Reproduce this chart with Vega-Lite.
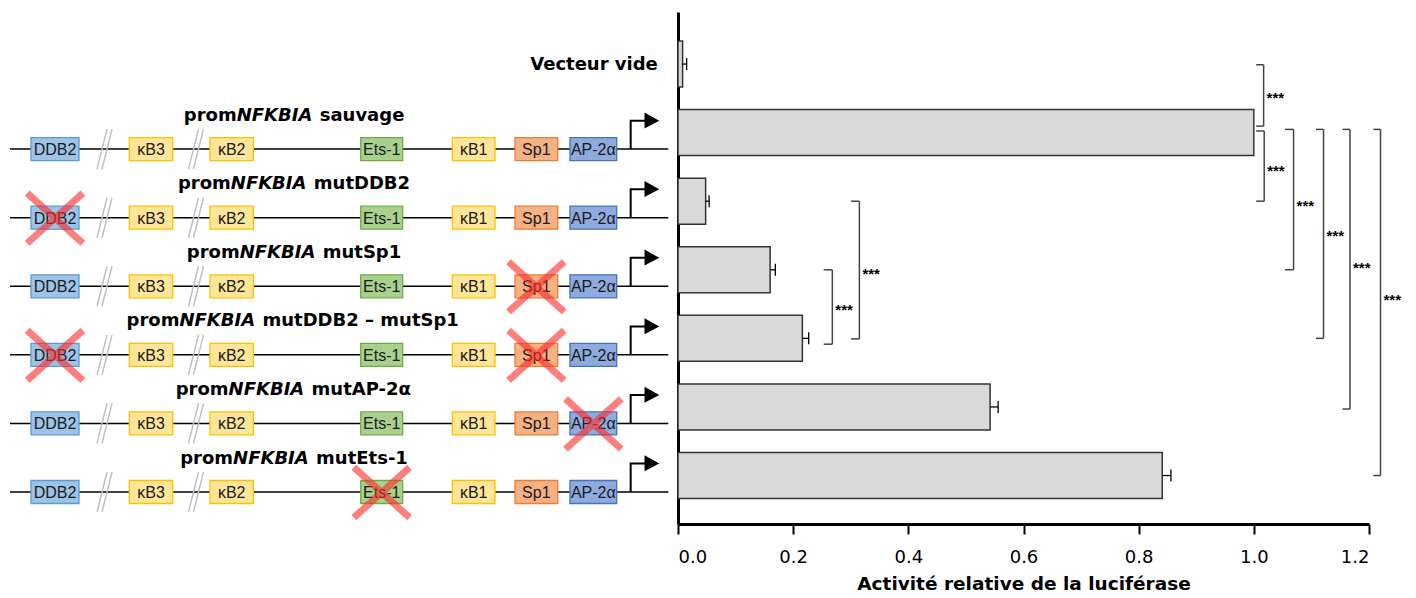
{
  "$schema": "https://vega.github.io/schema/vega-lite/v6.json",
  "background": "white",
  "padding": {"left": 0, "top": 12, "right": 0, "bottom": 0},
  "bounds": "flush",
  "spacing": 8,
  "config": {"view": {"stroke": null}, "font": "Liberation Sans"},
  "datasets": {
    "bars": [
      {"row": 0, "name": "Vecteur vide", "value": 0.008, "hi": 0.015},
      {"row": 1, "name": "sauvage", "value": 1.0, "hi": null},
      {"row": 2, "name": "mutDDB2", "value": 0.048, "hi": 0.054},
      {"row": 3, "name": "mutSp1", "value": 0.160, "hi": 0.169},
      {"row": 4, "name": "mutDDB2 – mutSp1", "value": 0.216, "hi": 0.227},
      {"row": 5, "name": "mutAP-2α", "value": 0.542, "hi": 0.556},
      {"row": 6, "name": "mutEts-1", "value": 0.841, "hi": 0.856}
    ],
    "brackets": [
      {"x": 1.017, "xl": 1.004, "y1": 0.01, "y2": 0.905, "ymid": 0.44},
      {"x": 1.018, "xl": 1.004, "y1": 0.976, "y2": 2.0, "ymid": 1.5},
      {"x": 1.069, "xl": 1.054, "y1": 0.953, "y2": 3.0, "ymid": 2.01},
      {"x": 1.121, "xl": 1.108, "y1": 0.953, "y2": 4.0, "ymid": 2.45},
      {"x": 1.167, "xl": 1.154, "y1": 0.953, "y2": 5.03, "ymid": 2.92},
      {"x": 1.220, "xl": 1.2075, "y1": 0.953, "y2": 6.0, "ymid": 3.38},
      {"x": 0.268, "xl": 0.253, "y1": 3.0, "y2": 4.085, "ymid": 3.53},
      {"x": 0.315, "xl": 0.3005, "y1": 2.0, "y2": 4.007, "ymid": 3.0}
    ],
    "constructs": [
      {"row": 1, "suffix": "sauvage", "anchor": 35.33, "start": 1.49, "end": 99.75, "tss": 94.13},
      {"row": 2, "suffix": "mutDDB2", "anchor": 34.45, "start": 1.49, "end": 99.75, "tss": 94.13},
      {"row": 3, "suffix": "mutSp1", "anchor": 35.78, "start": 1.49, "end": 99.75, "tss": 94.13},
      {"row": 4, "suffix": "mutDDB2 – mutSp1", "anchor": 26.79, "start": 1.49, "end": 99.75, "tss": 94.13},
      {"row": 5, "suffix": "mutAP-2α", "anchor": 34.12, "start": 1.49, "end": 99.75, "tss": 94.13},
      {"row": 6, "suffix": "mutEts-1", "anchor": 34.79, "start": 1.49, "end": 99.75, "tss": 94.13}
    ],
    "boxes": [
      {"name": "DDB2", "type": "DDB2", "start": 4.63, "end": 11.79, "mid": 8.21, "rows": [1, 2, 3, 4, 5, 6]},
      {"name": "κB3", "type": "kB", "start": 19.30, "end": 25.78, "mid": 22.54, "rows": [1, 2, 3, 4, 5, 6]},
      {"name": "κB2", "type": "kB", "start": 31.34, "end": 37.81, "mid": 34.58, "rows": [1, 2, 3, 4, 5, 6]},
      {"name": "Ets-1", "type": "Ets", "start": 53.84, "end": 60.10, "mid": 56.97, "rows": [1, 2, 3, 4, 5, 6]},
      {"name": "κB1", "type": "kB", "start": 67.51, "end": 73.88, "mid": 70.70, "rows": [1, 2, 3, 4, 5, 6]},
      {"name": "Sp1", "type": "Sp1", "start": 76.87, "end": 83.24, "mid": 80.05, "rows": [1, 2, 3, 4, 5, 6]},
      {"name": "AP-2α", "type": "AP", "start": 85.07, "end": 92.04, "mid": 88.56, "rows": [1, 2, 3, 4, 5, 6]}
    ],
    "slashes": [
      {"x": 15.6, "rows": [1, 2, 3, 4, 5, 6]},
      {"x": 29.25, "rows": [1, 2, 3, 4, 5, 6]}
    ],
    "crosses": [
      {"row": 2, "x": 8.21},
      {"row": 3, "x": 80.05},
      {"row": 4, "x": 8.21},
      {"row": 4, "x": 80.05},
      {"row": 5, "x": 88.56},
      {"row": 6, "x": 56.97}
    ],
    "vide": [{"row": 0, "x": 88.66, "label": "Vecteur vide"}]
  },
  "hconcat": [
    {
      "width": 670,
      "height": 512,
      "layer": [
        {
          "data": {"name": "constructs"},
          "mark": {"type": "rule", "yOffset": 16.5, "color": "#000000", "strokeWidth": 1.5},
          "encoding": {
            "x": {"field": "start", "type": "quantitative", "scale": {"domain": [0, 100], "nice": false, "zero": false}, "axis": null},
            "x2": {"field": "end"},
            "y": {"field": "row", "type": "quantitative", "scale": {"domain": [-0.686, 6.634], "reverse": true, "nice": false, "zero": false}, "axis": null}
          }
        },
        {
          "data": {"name": "slashes"},
          "transform": [{"flatten": ["rows"]}],
          "mark": {"type": "point", "shape": "M-0.375,1L0.125,-1M-0.125,1L0.375,-1", "size": 1600, "filled": false, "stroke": "#c0c0c0", "strokeWidth": 1.5, "opacity": 1, "yOffset": 16.5},
          "encoding": {
            "x": {"field": "x", "type": "quantitative", "axis": null},
            "y": {"field": "rows", "type": "quantitative", "axis": null}
          }
        },
        {
          "data": {"name": "boxes"},
          "transform": [{"flatten": ["rows"]}],
          "mark": {"type": "bar", "orient": "horizontal", "size": 23, "yOffset": 16.5, "strokeWidth": 1.3},
          "encoding": {
            "x": {"field": "start", "type": "quantitative", "axis": null},
            "x2": {"field": "end"},
            "y": {"field": "rows", "type": "quantitative", "axis": null},
            "fill": {"field": "type", "type": "nominal", "legend": null,
              "scale": {"domain": ["DDB2", "kB", "Ets", "Sp1", "AP"], "range": ["#9dc3e6", "#ffe699", "#a9d18e", "#f4b183", "#8faadc"]}},
            "stroke": {"field": "type", "type": "nominal", "legend": null,
              "scale": {"domain": ["DDB2", "kB", "Ets", "Sp1", "AP"], "range": ["#5b9bd5", "#ffc000", "#70ad47", "#ed7d31", "#4472c4"]}}
          }
        },
        {
          "data": {"name": "boxes"},
          "transform": [{"flatten": ["rows"]}],
          "mark": {"type": "text", "font": "Liberation Sans", "fontSize": 16, "color": "#1a1a1a", "baseline": "middle", "align": "center", "dy": 17.5},
          "encoding": {
            "x": {"field": "mid", "type": "quantitative", "axis": null},
            "y": {"field": "rows", "type": "quantitative", "axis": null},
            "text": {"field": "name"}
          }
        },
        {
          "data": {"name": "crosses"},
          "mark": {"type": "point", "shape": "M-1,-0.9L1,0.9M-1,0.9L1,-0.9", "size": 3100, "filled": false, "stroke": "#ff2a2a", "strokeWidth": 7, "opacity": 0.6, "yOffset": 17},
          "encoding": {
            "x": {"field": "x", "type": "quantitative", "axis": null},
            "y": {"field": "row", "type": "quantitative", "axis": null}
          }
        },
        {
          "data": {"name": "constructs"},
          "mark": {"type": "point", "shape": "M0,0L0,-0.947L0.5,-0.947", "size": 3600, "filled": false, "stroke": "#000000", "strokeWidth": 2, "opacity": 1, "yOffset": 16.5},
          "encoding": {
            "x": {"field": "tss", "type": "quantitative", "axis": null},
            "y": {"field": "row", "type": "quantitative", "axis": null}
          }
        },
        {
          "data": {"name": "constructs"},
          "mark": {"type": "point", "shape": "M0.46,-1.223L0.953,-0.947L0.46,-0.69Z", "size": 3600, "filled": true, "fill": "#000000", "strokeWidth": 0, "opacity": 1, "yOffset": 16.5},
          "encoding": {
            "x": {"field": "tss", "type": "quantitative", "axis": null},
            "y": {"field": "row", "type": "quantitative", "axis": null}
          }
        },
        {
          "data": {"name": "constructs"},
          "mark": {"type": "text", "text": "prom", "font": "DejaVu Sans", "fontSize": 18, "fontWeight": "bold", "color": "#000000", "align": "right", "baseline": "alphabetic", "dy": -12},
          "encoding": {
            "x": {"field": "anchor", "type": "quantitative", "axis": null},
            "y": {"field": "row", "type": "quantitative", "axis": null}
          }
        },
        {
          "data": {"name": "constructs"},
          "mark": {"type": "text", "text": "NFKBIA", "font": "DejaVu Sans", "fontSize": 18, "fontWeight": "bold", "fontStyle": "italic", "color": "#000000", "align": "left", "baseline": "alphabetic", "dy": -12},
          "encoding": {
            "x": {"field": "anchor", "type": "quantitative", "axis": null},
            "y": {"field": "row", "type": "quantitative", "axis": null}
          }
        },
        {
          "data": {"name": "constructs"},
          "mark": {"type": "text", "font": "DejaVu Sans", "fontSize": 18, "fontWeight": "bold", "color": "#000000", "align": "left", "baseline": "alphabetic", "dy": -12, "dx": 83},
          "encoding": {
            "x": {"field": "anchor", "type": "quantitative", "axis": null},
            "y": {"field": "row", "type": "quantitative", "axis": null},
            "text": {"field": "suffix"}
          }
        },
        {
          "data": {"name": "vide"},
          "mark": {"type": "text", "font": "DejaVu Sans", "fontSize": 18, "fontWeight": "bold", "color": "#000000", "align": "center", "baseline": "alphabetic", "dy": 6},
          "encoding": {
            "x": {"field": "x", "type": "quantitative", "axis": null},
            "y": {"field": "row", "type": "quantitative", "axis": null},
            "text": {"field": "label"}
          }
        }
      ]
    },
    {
      "width": 691,
      "height": 512,
      "encoding": {
        "x": {"type": "quantitative",
          "scale": {"domain": [0, 1.2], "nice": false, "zero": true},
          "title": "Activité relative de la luciférase",
          "axis": {"values": [0, 0.2, 0.4, 0.6, 0.8, 1, 1.2], "format": ".1f", "grid": false,
            "domainColor": "#000000", "domainWidth": 3, "tickColor": "#000000", "tickWidth": 2, "tickSize": 10,
            "labelFont": "DejaVu Sans", "labelFontSize": 18, "labelColor": "#000000", "labelPadding": 14,
            "titleFont": "DejaVu Sans", "titleFontSize": 18.5, "titleFontWeight": "bold", "titleColor": "#000000", "titlePadding": 8}},
        "y": {"type": "quantitative",
          "scale": {"domain": [-0.686, 6.634], "reverse": true, "nice": false, "zero": false},
          "title": null,
          "axis": {"labels": false, "ticks": false, "grid": false, "domainColor": "#000000", "domainWidth": 3}}
      },
      "layer": [
        {
          "data": {"name": "bars"},
          "mark": {"type": "bar", "orient": "horizontal", "size": 46, "fill": "#d9d9d9", "stroke": "#333333", "strokeWidth": 1.5},
          "encoding": {
            "x": {"field": "value"},
            "x2": {"datum": 0},
            "y": {"field": "row"}
          }
        },
        {
          "data": {"name": "bars"},
          "transform": [{"filter": "datum.hi != null"}],
          "mark": {"type": "rule", "color": "#000000", "strokeWidth": 1.3},
          "encoding": {
            "x": {"field": "value"},
            "x2": {"field": "hi"},
            "y": {"field": "row"}
          }
        },
        {
          "data": {"name": "bars"},
          "transform": [{"filter": "datum.hi != null"}],
          "mark": {"type": "point", "shape": "M0,-1L0,1", "size": 144, "filled": false, "stroke": "#000000", "strokeWidth": 1.3, "opacity": 1},
          "encoding": {
            "x": {"field": "hi"},
            "y": {"field": "row"}
          }
        },
        {
          "data": {"name": "brackets"},
          "mark": {"type": "rule", "color": "#444444", "strokeWidth": 1.5},
          "encoding": {
            "x": {"field": "x"},
            "y": {"field": "y1"},
            "y2": {"field": "y2"}
          }
        },
        {
          "data": {"name": "brackets"},
          "mark": {"type": "rule", "color": "#444444", "strokeWidth": 1.5},
          "encoding": {
            "x": {"field": "xl"},
            "x2": {"field": "x"},
            "y": {"field": "y1"}
          }
        },
        {
          "data": {"name": "brackets"},
          "mark": {"type": "rule", "color": "#444444", "strokeWidth": 1.5},
          "encoding": {
            "x": {"field": "xl"},
            "x2": {"field": "x"},
            "y": {"field": "y2"}
          }
        },
        {
          "data": {"name": "brackets"},
          "mark": {"type": "text", "text": "***", "font": "Liberation Sans", "fontSize": 15, "fontWeight": "bold", "color": "#000000", "align": "left", "baseline": "middle", "dx": 3, "dy": 4},
          "encoding": {
            "x": {"field": "x"},
            "y": {"field": "ymid"}
          }
        }
      ]
    }
  ]
}
